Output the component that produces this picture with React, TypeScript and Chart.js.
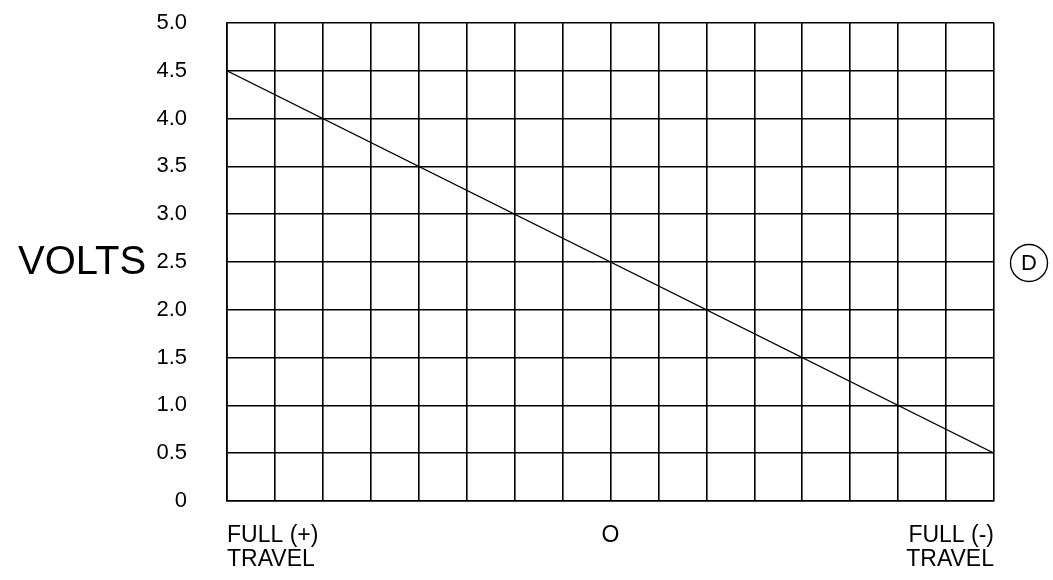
import React, { useEffect, useRef } from "react";
import { Chart, registerables } from "chart.js";

Chart.register(...registerables);

const travelPositions = [0, 16];
const voltValues = [4.5, 0.5];
const xLabelPositions = [0, 8, 16];
const xLabelTexts: (string | string[])[] = [["FULL (+)", "TRAVEL"], "O", ["FULL (-)", "TRAVEL"]];
const yAxisTitle = "VOLTS";
const markerLetter = "D";

const FONT = "'Liberation Sans', Arial, Helvetica, sans-serif";

const sidePlugin = {
  id: "sideText",
  afterDraw(chart: any) {
    const { ctx, chartArea, scales } = chart;
    const yMid = scales.y.getPixelForValue(2.5);
    ctx.save();
    ctx.fillStyle = "#000";
    ctx.font = `40px ${FONT}`;
    ctx.textAlign = "left";
    ctx.textBaseline = "middle";
    ctx.fillText(yAxisTitle, 18, yMid + 1);
    const cx = chartArea.right + 35;
    const cy = yMid + 1;
    ctx.beginPath();
    ctx.arc(cx, cy, 18.5, 0, Math.PI * 2);
    ctx.lineWidth = 1.4;
    ctx.strokeStyle = "#000";
    ctx.stroke();
    ctx.font = `22px ${FONT}`;
    ctx.textAlign = "center";
    ctx.fillText(markerLetter, cx, cy + 1);
    ctx.restore();
  },
};

export default function App() {
  const ref = useRef<HTMLCanvasElement>(null);
  useEffect(() => {
    if (!ref.current) return;
    const chart = new Chart(ref.current, {
      type: "line",
      data: {
        datasets: [
          {
            data: travelPositions.map((x, i) => ({ x, y: voltValues[i] })),
            borderColor: "#000",
            borderWidth: 1.4,
            pointRadius: 0,
            fill: false,
          },
        ],
      },
      options: {
        animation: false,
        responsive: false,
        events: [],
        layout: { padding: { left: 127, right: 59, top: 23, bottom: 0 } },
        plugins: { legend: { display: false }, tooltip: { enabled: false } },
        scales: {
          x: {
            type: "linear",
            min: 0,
            max: 16,
            afterFit: (s: any) => {
              s.height = 79;
              s.paddingLeft = 0;
              s.paddingRight = 0;
            },
            ticks: {
              stepSize: 1,
              autoSkip: false,
              maxRotation: 0,
              align: "inner",
              padding: 23,
              color: "#000",
              font: { family: FONT, size: 23, lineHeight: 24 / 23 },
              callback: (v: any) => {
                const i = xLabelPositions.indexOf(Number(v));
                return i >= 0 ? xLabelTexts[i] : "";
              },
            },
            grid: { color: "#000", lineWidth: 1.6, drawTicks: false },
            border: { color: "#000", width: 1.6 },
          },
          y: {
            min: 0,
            max: 5,
            afterFit: (s: any) => {
              s.width = 100;
              s.paddingTop = 0;
              s.paddingBottom = 0;
            },
            ticks: {
              stepSize: 0.5,
              padding: 40,
              color: "#000",
              font: { family: FONT, size: 22 },
              callback: (v: any) => (Number(v) === 0 ? "0" : Number(v).toFixed(1)),
            },
            grid: { color: "#000", lineWidth: 1.6, drawTicks: false },
            border: { color: "#000", width: 1.6 },
          },
        },
      },
      plugins: [sidePlugin],
    });
    return () => chart.destroy();
  }, []);
  return (
    <div style={{ position: "fixed", left: 0, top: 0, width: 1053, height: 580, background: "#fff" }}>
      <canvas ref={ref} width={1053} height={580} style={{ display: "block" }} />
    </div>
  );
}
